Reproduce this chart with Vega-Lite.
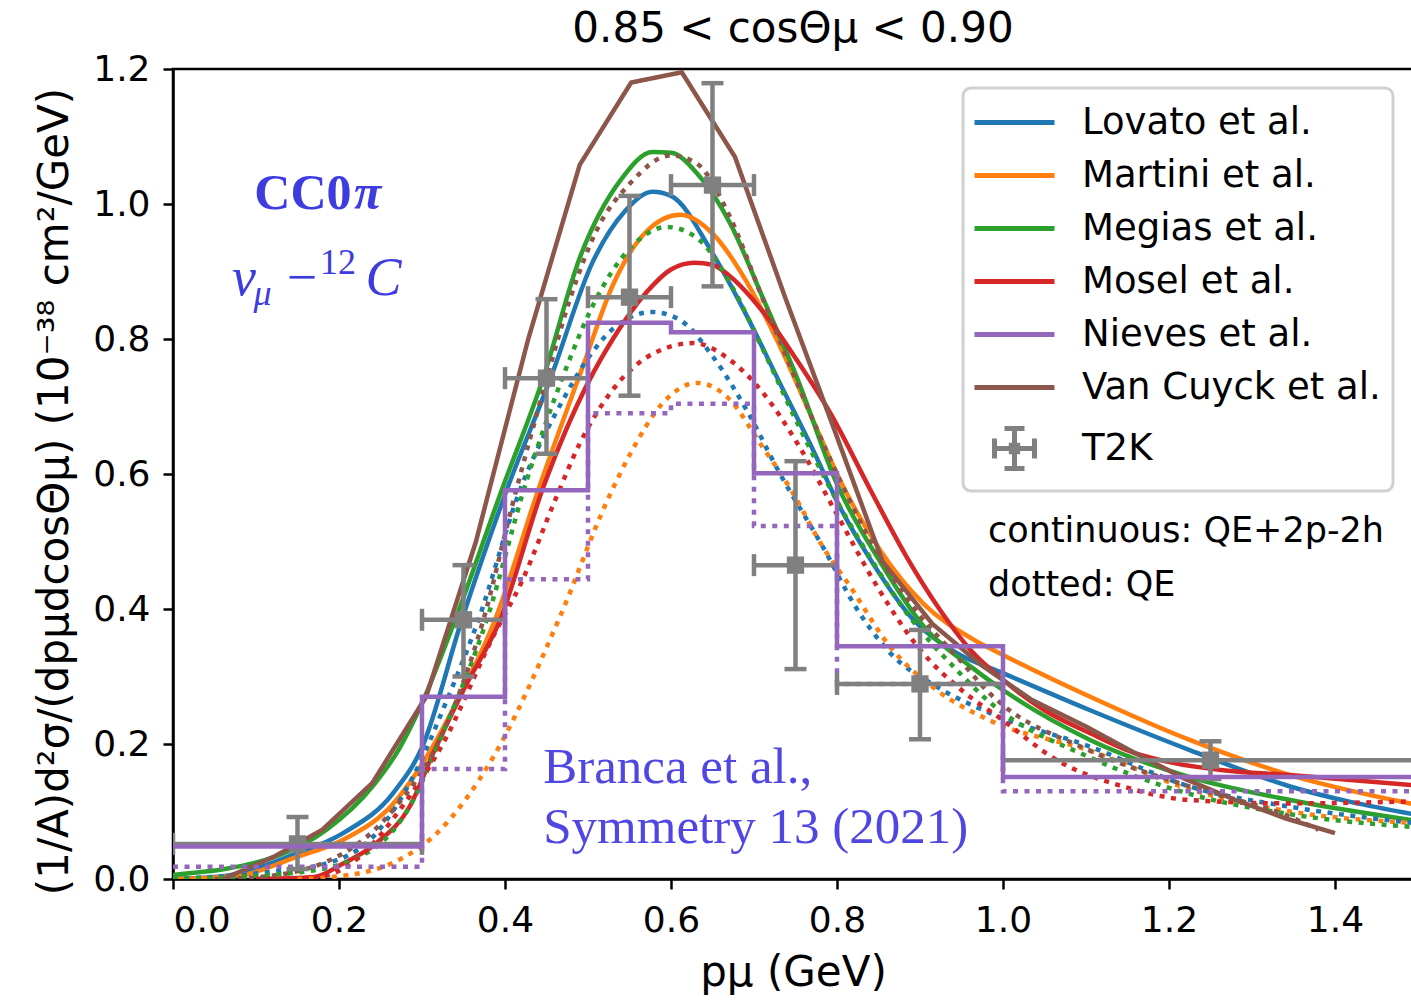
{
  "$schema": "https://vega.github.io/schema/vega-lite/v6.json",
  "width": 1240,
  "height": 810,
  "autosize": "none",
  "padding": {"left": 173, "top": 69, "right": 0, "bottom": 126},
  "title": {"text": "0.85 < cosΘμ < 0.90", "font": "DejaVu Sans", "fontSize": 42, "fontWeight": "normal", "color": "black", "offset": 0, "anchor": "middle"},
  "config": {
    "view": {"stroke": "black", "strokeWidth": 2.5},
    "axis": {"grid": false, "domainColor": "black", "domainWidth": 2.5, "tickColor": "black", "tickWidth": 2.5, "tickSize": 10, "labelFont": "DejaVu Sans", "labelFontSize": 36, "labelColor": "black", "titleFont": "DejaVu Sans", "titleFontSize": 42, "titleFontWeight": "normal", "titleColor": "black", "labelPadding": 12}
  },
  "datasets": {
    "curves": [
      {"model": "Lovato et al.", "type": "solid", "p": 0.0, "v": 0.0},
      {"model": "Lovato et al.", "type": "solid", "p": 0.06, "v": 0.004},
      {"model": "Lovato et al.", "type": "solid", "p": 0.145, "v": 0.036},
      {"model": "Lovato et al.", "type": "solid", "p": 0.205, "v": 0.068},
      {"model": "Lovato et al.", "type": "solid", "p": 0.265, "v": 0.127},
      {"model": "Lovato et al.", "type": "solid", "p": 0.3, "v": 0.195},
      {"model": "Lovato et al.", "type": "solid", "p": 0.348, "v": 0.384},
      {"model": "Lovato et al.", "type": "solid", "p": 0.402, "v": 0.576},
      {"model": "Lovato et al.", "type": "solid", "p": 0.455, "v": 0.742},
      {"model": "Lovato et al.", "type": "solid", "p": 0.506, "v": 0.915},
      {"model": "Lovato et al.", "type": "solid", "p": 0.545, "v": 0.99},
      {"model": "Lovato et al.", "type": "solid", "p": 0.578, "v": 1.018},
      {"model": "Lovato et al.", "type": "solid", "p": 0.6, "v": 1.012},
      {"model": "Lovato et al.", "type": "solid", "p": 0.651, "v": 0.925},
      {"model": "Lovato et al.", "type": "solid", "p": 0.691, "v": 0.835},
      {"model": "Lovato et al.", "type": "solid", "p": 0.731, "v": 0.735},
      {"model": "Lovato et al.", "type": "solid", "p": 0.771, "v": 0.636},
      {"model": "Lovato et al.", "type": "solid", "p": 0.804, "v": 0.55},
      {"model": "Lovato et al.", "type": "solid", "p": 0.843, "v": 0.468},
      {"model": "Lovato et al.", "type": "solid", "p": 0.892, "v": 0.384},
      {"model": "Lovato et al.", "type": "solid", "p": 0.944, "v": 0.335},
      {"model": "Lovato et al.", "type": "solid", "p": 1.0, "v": 0.305},
      {"model": "Lovato et al.", "type": "solid", "p": 1.105, "v": 0.25},
      {"model": "Lovato et al.", "type": "solid", "p": 1.225, "v": 0.191},
      {"model": "Lovato et al.", "type": "solid", "p": 1.346, "v": 0.137},
      {"model": "Lovato et al.", "type": "solid", "p": 1.494, "v": 0.096},

      {"model": "Martini et al.", "type": "solid", "p": 0.0, "v": 0.0},
      {"model": "Martini et al.", "type": "solid", "p": 0.08, "v": 0.005},
      {"model": "Martini et al.", "type": "solid", "p": 0.145, "v": 0.031},
      {"model": "Martini et al.", "type": "solid", "p": 0.205, "v": 0.058},
      {"model": "Martini et al.", "type": "solid", "p": 0.265, "v": 0.111},
      {"model": "Martini et al.", "type": "solid", "p": 0.3, "v": 0.17},
      {"model": "Martini et al.", "type": "solid", "p": 0.345, "v": 0.27},
      {"model": "Martini et al.", "type": "solid", "p": 0.388, "v": 0.384},
      {"model": "Martini et al.", "type": "solid", "p": 0.44, "v": 0.576},
      {"model": "Martini et al.", "type": "solid", "p": 0.494, "v": 0.76},
      {"model": "Martini et al.", "type": "solid", "p": 0.53, "v": 0.88},
      {"model": "Martini et al.", "type": "solid", "p": 0.571, "v": 0.96},
      {"model": "Martini et al.", "type": "solid", "p": 0.611, "v": 0.984},
      {"model": "Martini et al.", "type": "solid", "p": 0.651, "v": 0.955},
      {"model": "Martini et al.", "type": "solid", "p": 0.691, "v": 0.885},
      {"model": "Martini et al.", "type": "solid", "p": 0.731, "v": 0.79},
      {"model": "Martini et al.", "type": "solid", "p": 0.771, "v": 0.68},
      {"model": "Martini et al.", "type": "solid", "p": 0.804, "v": 0.59},
      {"model": "Martini et al.", "type": "solid", "p": 0.852, "v": 0.487},
      {"model": "Martini et al.", "type": "solid", "p": 0.904, "v": 0.408},
      {"model": "Martini et al.", "type": "solid", "p": 0.964, "v": 0.355},
      {"model": "Martini et al.", "type": "solid", "p": 1.0, "v": 0.332},
      {"model": "Martini et al.", "type": "solid", "p": 1.105, "v": 0.27},
      {"model": "Martini et al.", "type": "solid", "p": 1.225, "v": 0.206},
      {"model": "Martini et al.", "type": "solid", "p": 1.346, "v": 0.154},
      {"model": "Martini et al.", "type": "solid", "p": 1.494, "v": 0.111},

      {"model": "Megias et al.", "type": "solid", "p": 0.0, "v": 0.006},
      {"model": "Megias et al.", "type": "solid", "p": 0.125, "v": 0.034},
      {"model": "Megias et al.", "type": "solid", "p": 0.185, "v": 0.073},
      {"model": "Megias et al.", "type": "solid", "p": 0.241, "v": 0.138},
      {"model": "Megias et al.", "type": "solid", "p": 0.273, "v": 0.194},
      {"model": "Megias et al.", "type": "solid", "p": 0.298, "v": 0.255},
      {"model": "Megias et al.", "type": "solid", "p": 0.34, "v": 0.384},
      {"model": "Megias et al.", "type": "solid", "p": 0.396, "v": 0.576},
      {"model": "Megias et al.", "type": "solid", "p": 0.446, "v": 0.742},
      {"model": "Megias et al.", "type": "solid", "p": 0.49, "v": 0.92},
      {"model": "Megias et al.", "type": "solid", "p": 0.539, "v": 1.035},
      {"model": "Megias et al.", "type": "solid", "p": 0.578, "v": 1.077},
      {"model": "Megias et al.", "type": "solid", "p": 0.6, "v": 1.076},
      {"model": "Megias et al.", "type": "solid", "p": 0.631, "v": 1.046},
      {"model": "Megias et al.", "type": "solid", "p": 0.671, "v": 0.972},
      {"model": "Megias et al.", "type": "solid", "p": 0.711, "v": 0.86},
      {"model": "Megias et al.", "type": "solid", "p": 0.752, "v": 0.742},
      {"model": "Megias et al.", "type": "solid", "p": 0.8, "v": 0.585},
      {"model": "Megias et al.", "type": "solid", "p": 0.852, "v": 0.47},
      {"model": "Megias et al.", "type": "solid", "p": 0.904, "v": 0.375},
      {"model": "Megias et al.", "type": "solid", "p": 0.964, "v": 0.312},
      {"model": "Megias et al.", "type": "solid", "p": 1.0, "v": 0.28},
      {"model": "Megias et al.", "type": "solid", "p": 1.105, "v": 0.206},
      {"model": "Megias et al.", "type": "solid", "p": 1.225, "v": 0.151},
      {"model": "Megias et al.", "type": "solid", "p": 1.346, "v": 0.117},
      {"model": "Megias et al.", "type": "solid", "p": 1.494, "v": 0.087},

      {"model": "Mosel et al.", "type": "solid", "p": 0.1, "v": 0.0},
      {"model": "Mosel et al.", "type": "solid", "p": 0.17, "v": 0.003},
      {"model": "Mosel et al.", "type": "solid", "p": 0.205, "v": 0.023},
      {"model": "Mosel et al.", "type": "solid", "p": 0.245, "v": 0.053},
      {"model": "Mosel et al.", "type": "solid", "p": 0.285, "v": 0.107},
      {"model": "Mosel et al.", "type": "solid", "p": 0.313, "v": 0.185},
      {"model": "Mosel et al.", "type": "solid", "p": 0.35, "v": 0.28},
      {"model": "Mosel et al.", "type": "solid", "p": 0.394, "v": 0.384},
      {"model": "Mosel et al.", "type": "solid", "p": 0.446, "v": 0.58},
      {"model": "Mosel et al.", "type": "solid", "p": 0.5, "v": 0.735},
      {"model": "Mosel et al.", "type": "solid", "p": 0.53, "v": 0.8},
      {"model": "Mosel et al.", "type": "solid", "p": 0.571, "v": 0.87},
      {"model": "Mosel et al.", "type": "solid", "p": 0.6, "v": 0.903},
      {"model": "Mosel et al.", "type": "solid", "p": 0.628, "v": 0.913},
      {"model": "Mosel et al.", "type": "solid", "p": 0.65, "v": 0.91},
      {"model": "Mosel et al.", "type": "solid", "p": 0.671, "v": 0.893},
      {"model": "Mosel et al.", "type": "solid", "p": 0.711, "v": 0.84},
      {"model": "Mosel et al.", "type": "solid", "p": 0.752, "v": 0.768},
      {"model": "Mosel et al.", "type": "solid", "p": 0.792, "v": 0.69},
      {"model": "Mosel et al.", "type": "solid", "p": 0.843, "v": 0.57},
      {"model": "Mosel et al.", "type": "solid", "p": 0.884, "v": 0.477},
      {"model": "Mosel et al.", "type": "solid", "p": 0.924, "v": 0.399},
      {"model": "Mosel et al.", "type": "solid", "p": 0.964, "v": 0.335},
      {"model": "Mosel et al.", "type": "solid", "p": 1.0, "v": 0.295},
      {"model": "Mosel et al.", "type": "solid", "p": 1.05, "v": 0.25},
      {"model": "Mosel et al.", "type": "solid", "p": 1.105, "v": 0.216},
      {"model": "Mosel et al.", "type": "solid", "p": 1.16, "v": 0.186},
      {"model": "Mosel et al.", "type": "solid", "p": 1.205, "v": 0.172},
      {"model": "Mosel et al.", "type": "solid", "p": 1.265, "v": 0.161},
      {"model": "Mosel et al.", "type": "solid", "p": 1.346, "v": 0.154},
      {"model": "Mosel et al.", "type": "solid", "p": 1.494, "v": 0.139},

      {"model": "Lovato et al.", "type": "dotted", "p": 0.0, "v": 0.0},
      {"model": "Lovato et al.", "type": "dotted", "p": 0.105, "v": 0.009},
      {"model": "Lovato et al.", "type": "dotted", "p": 0.185, "v": 0.023},
      {"model": "Lovato et al.", "type": "dotted", "p": 0.245, "v": 0.068},
      {"model": "Lovato et al.", "type": "dotted", "p": 0.289, "v": 0.151},
      {"model": "Lovato et al.", "type": "dotted", "p": 0.33, "v": 0.265},
      {"model": "Lovato et al.", "type": "dotted", "p": 0.368, "v": 0.384},
      {"model": "Lovato et al.", "type": "dotted", "p": 0.418, "v": 0.576},
      {"model": "Lovato et al.", "type": "dotted", "p": 0.47, "v": 0.71},
      {"model": "Lovato et al.", "type": "dotted", "p": 0.502, "v": 0.775},
      {"model": "Lovato et al.", "type": "dotted", "p": 0.53, "v": 0.815},
      {"model": "Lovato et al.", "type": "dotted", "p": 0.577, "v": 0.84},
      {"model": "Lovato et al.", "type": "dotted", "p": 0.611, "v": 0.828},
      {"model": "Lovato et al.", "type": "dotted", "p": 0.651, "v": 0.773},
      {"model": "Lovato et al.", "type": "dotted", "p": 0.691, "v": 0.695},
      {"model": "Lovato et al.", "type": "dotted", "p": 0.731, "v": 0.601},
      {"model": "Lovato et al.", "type": "dotted", "p": 0.783, "v": 0.492},
      {"model": "Lovato et al.", "type": "dotted", "p": 0.824, "v": 0.4},
      {"model": "Lovato et al.", "type": "dotted", "p": 0.864, "v": 0.335},
      {"model": "Lovato et al.", "type": "dotted", "p": 0.92, "v": 0.285},
      {"model": "Lovato et al.", "type": "dotted", "p": 0.984, "v": 0.246},
      {"model": "Lovato et al.", "type": "dotted", "p": 1.105, "v": 0.196},
      {"model": "Lovato et al.", "type": "dotted", "p": 1.225, "v": 0.137},
      {"model": "Lovato et al.", "type": "dotted", "p": 1.346, "v": 0.107},
      {"model": "Lovato et al.", "type": "dotted", "p": 1.494, "v": 0.083},

      {"model": "Martini et al.", "type": "dotted", "p": 0.15, "v": 0.0},
      {"model": "Martini et al.", "type": "dotted", "p": 0.2, "v": 0.004},
      {"model": "Martini et al.", "type": "dotted", "p": 0.265, "v": 0.024},
      {"model": "Martini et al.", "type": "dotted", "p": 0.318, "v": 0.068},
      {"model": "Martini et al.", "type": "dotted", "p": 0.386, "v": 0.181},
      {"model": "Martini et al.", "type": "dotted", "p": 0.466, "v": 0.388},
      {"model": "Martini et al.", "type": "dotted", "p": 0.523, "v": 0.56},
      {"model": "Martini et al.", "type": "dotted", "p": 0.551, "v": 0.63},
      {"model": "Martini et al.", "type": "dotted", "p": 0.59, "v": 0.705},
      {"model": "Martini et al.", "type": "dotted", "p": 0.631, "v": 0.735},
      {"model": "Martini et al.", "type": "dotted", "p": 0.671, "v": 0.71},
      {"model": "Martini et al.", "type": "dotted", "p": 0.707, "v": 0.646},
      {"model": "Martini et al.", "type": "dotted", "p": 0.743, "v": 0.58},
      {"model": "Martini et al.", "type": "dotted", "p": 0.783, "v": 0.492},
      {"model": "Martini et al.", "type": "dotted", "p": 0.816, "v": 0.433},
      {"model": "Martini et al.", "type": "dotted", "p": 0.864, "v": 0.344},
      {"model": "Martini et al.", "type": "dotted", "p": 0.92, "v": 0.28},
      {"model": "Martini et al.", "type": "dotted", "p": 0.984, "v": 0.235},
      {"model": "Martini et al.", "type": "dotted", "p": 1.105, "v": 0.19},
      {"model": "Martini et al.", "type": "dotted", "p": 1.225, "v": 0.133},
      {"model": "Martini et al.", "type": "dotted", "p": 1.346, "v": 0.1},
      {"model": "Martini et al.", "type": "dotted", "p": 1.494, "v": 0.083},

      {"model": "Megias et al.", "type": "dotted", "p": 0.0, "v": 0.0},
      {"model": "Megias et al.", "type": "dotted", "p": 0.145, "v": 0.009},
      {"model": "Megias et al.", "type": "dotted", "p": 0.225, "v": 0.033},
      {"model": "Megias et al.", "type": "dotted", "p": 0.285, "v": 0.107},
      {"model": "Megias et al.", "type": "dotted", "p": 0.325, "v": 0.216},
      {"model": "Megias et al.", "type": "dotted", "p": 0.378, "v": 0.384},
      {"model": "Megias et al.", "type": "dotted", "p": 0.426, "v": 0.59},
      {"model": "Megias et al.", "type": "dotted", "p": 0.47, "v": 0.745},
      {"model": "Megias et al.", "type": "dotted", "p": 0.506, "v": 0.85},
      {"model": "Megias et al.", "type": "dotted", "p": 0.551, "v": 0.935},
      {"model": "Megias et al.", "type": "dotted", "p": 0.595, "v": 0.966},
      {"model": "Megias et al.", "type": "dotted", "p": 0.631, "v": 0.95},
      {"model": "Megias et al.", "type": "dotted", "p": 0.671, "v": 0.883},
      {"model": "Megias et al.", "type": "dotted", "p": 0.711, "v": 0.784},
      {"model": "Megias et al.", "type": "dotted", "p": 0.752, "v": 0.676},
      {"model": "Megias et al.", "type": "dotted", "p": 0.8, "v": 0.56},
      {"model": "Megias et al.", "type": "dotted", "p": 0.843, "v": 0.47},
      {"model": "Megias et al.", "type": "dotted", "p": 0.884, "v": 0.394},
      {"model": "Megias et al.", "type": "dotted", "p": 0.944, "v": 0.31},
      {"model": "Megias et al.", "type": "dotted", "p": 0.984, "v": 0.262},
      {"model": "Megias et al.", "type": "dotted", "p": 1.105, "v": 0.18},
      {"model": "Megias et al.", "type": "dotted", "p": 1.225, "v": 0.126},
      {"model": "Megias et al.", "type": "dotted", "p": 1.346, "v": 0.096},
      {"model": "Megias et al.", "type": "dotted", "p": 1.494, "v": 0.077},

      {"model": "Mosel et al.", "type": "dotted", "p": 0.1, "v": 0.0},
      {"model": "Mosel et al.", "type": "dotted", "p": 0.165, "v": 0.001},
      {"model": "Mosel et al.", "type": "dotted", "p": 0.225, "v": 0.033},
      {"model": "Mosel et al.", "type": "dotted", "p": 0.273, "v": 0.102},
      {"model": "Mosel et al.", "type": "dotted", "p": 0.325, "v": 0.2},
      {"model": "Mosel et al.", "type": "dotted", "p": 0.386, "v": 0.36},
      {"model": "Mosel et al.", "type": "dotted", "p": 0.42, "v": 0.44},
      {"model": "Mosel et al.", "type": "dotted", "p": 0.46, "v": 0.56},
      {"model": "Mosel et al.", "type": "dotted", "p": 0.49, "v": 0.645},
      {"model": "Mosel et al.", "type": "dotted", "p": 0.53, "v": 0.725},
      {"model": "Mosel et al.", "type": "dotted", "p": 0.571, "v": 0.773},
      {"model": "Mosel et al.", "type": "dotted", "p": 0.627, "v": 0.794},
      {"model": "Mosel et al.", "type": "dotted", "p": 0.671, "v": 0.769},
      {"model": "Mosel et al.", "type": "dotted", "p": 0.711, "v": 0.72},
      {"model": "Mosel et al.", "type": "dotted", "p": 0.752, "v": 0.646},
      {"model": "Mosel et al.", "type": "dotted", "p": 0.8, "v": 0.54},
      {"model": "Mosel et al.", "type": "dotted", "p": 0.85, "v": 0.43},
      {"model": "Mosel et al.", "type": "dotted", "p": 0.9, "v": 0.34},
      {"model": "Mosel et al.", "type": "dotted", "p": 0.95, "v": 0.28},
      {"model": "Mosel et al.", "type": "dotted", "p": 1.0, "v": 0.235},
      {"model": "Mosel et al.", "type": "dotted", "p": 1.065, "v": 0.176},
      {"model": "Mosel et al.", "type": "dotted", "p": 1.145, "v": 0.137},
      {"model": "Mosel et al.", "type": "dotted", "p": 1.225, "v": 0.117},
      {"model": "Mosel et al.", "type": "dotted", "p": 1.346, "v": 0.112},
      {"model": "Mosel et al.", "type": "dotted", "p": 1.494, "v": 0.115},

      {"model": "Van Cuyck et al.", "type": "dotted", "p": 0.05, "v": 0.0},
      {"model": "Van Cuyck et al.", "type": "dotted", "p": 0.105, "v": 0.003},
      {"model": "Van Cuyck et al.", "type": "dotted", "p": 0.205, "v": 0.038},
      {"model": "Van Cuyck et al.", "type": "dotted", "p": 0.265, "v": 0.102},
      {"model": "Van Cuyck et al.", "type": "dotted", "p": 0.325, "v": 0.216},
      {"model": "Van Cuyck et al.", "type": "dotted", "p": 0.374, "v": 0.384},
      {"model": "Van Cuyck et al.", "type": "dotted", "p": 0.408, "v": 0.55},
      {"model": "Van Cuyck et al.", "type": "dotted", "p": 0.45, "v": 0.74},
      {"model": "Van Cuyck et al.", "type": "dotted", "p": 0.478, "v": 0.858},
      {"model": "Van Cuyck et al.", "type": "dotted", "p": 0.51, "v": 0.96},
      {"model": "Van Cuyck et al.", "type": "dotted", "p": 0.551, "v": 1.031},
      {"model": "Van Cuyck et al.", "type": "dotted", "p": 0.6, "v": 1.072},
      {"model": "Van Cuyck et al.", "type": "dotted", "p": 0.631, "v": 1.06},
      {"model": "Van Cuyck et al.", "type": "dotted", "p": 0.671, "v": 0.981},
      {"model": "Van Cuyck et al.", "type": "dotted", "p": 0.711, "v": 0.858},
      {"model": "Van Cuyck et al.", "type": "dotted", "p": 0.752, "v": 0.735},
      {"model": "Van Cuyck et al.", "type": "dotted", "p": 0.8, "v": 0.6},
      {"model": "Van Cuyck et al.", "type": "dotted", "p": 0.85, "v": 0.48},
      {"model": "Van Cuyck et al.", "type": "dotted", "p": 0.9, "v": 0.39},
      {"model": "Van Cuyck et al.", "type": "dotted", "p": 0.944, "v": 0.33},
      {"model": "Van Cuyck et al.", "type": "dotted", "p": 0.984, "v": 0.275},
      {"model": "Van Cuyck et al.", "type": "dotted", "p": 1.105, "v": 0.19},
      {"model": "Van Cuyck et al.", "type": "dotted", "p": 1.225, "v": 0.137},
      {"model": "Van Cuyck et al.", "type": "dotted", "p": 1.346, "v": 0.092},
      {"model": "Van Cuyck et al.", "type": "dotted", "p": 1.38, "v": 0.073}
    ],
    "vancuyck": [
      {"model": "Van Cuyck et al.", "p": 0.06, "v": 0.0},
      {"model": "Van Cuyck et al.", "p": 0.12, "v": 0.032},
      {"model": "Van Cuyck et al.", "p": 0.18, "v": 0.073},
      {"model": "Van Cuyck et al.", "p": 0.24, "v": 0.142},
      {"model": "Van Cuyck et al.", "p": 0.305, "v": 0.27},
      {"model": "Van Cuyck et al.", "p": 0.365, "v": 0.5},
      {"model": "Van Cuyck et al.", "p": 0.428, "v": 0.8},
      {"model": "Van Cuyck et al.", "p": 0.49, "v": 1.058},
      {"model": "Van Cuyck et al.", "p": 0.552, "v": 1.18},
      {"model": "Van Cuyck et al.", "p": 0.613, "v": 1.195},
      {"model": "Van Cuyck et al.", "p": 0.677, "v": 1.07},
      {"model": "Van Cuyck et al.", "p": 0.738, "v": 0.86},
      {"model": "Van Cuyck et al.", "p": 0.797, "v": 0.665},
      {"model": "Van Cuyck et al.", "p": 0.855, "v": 0.47},
      {"model": "Van Cuyck et al.", "p": 0.915, "v": 0.378},
      {"model": "Van Cuyck et al.", "p": 0.975, "v": 0.316},
      {"model": "Van Cuyck et al.", "p": 1.035, "v": 0.265},
      {"model": "Van Cuyck et al.", "p": 1.1, "v": 0.226},
      {"model": "Van Cuyck et al.", "p": 1.16, "v": 0.186},
      {"model": "Van Cuyck et al.", "p": 1.22, "v": 0.148},
      {"model": "Van Cuyck et al.", "p": 1.28, "v": 0.117},
      {"model": "Van Cuyck et al.", "p": 1.34, "v": 0.09},
      {"model": "Van Cuyck et al.", "p": 1.4, "v": 0.068}
    ],
    "nieves": [
      {"model": "Nieves et al.", "type": "solid", "p": 0.0, "v": 0.048},
      {"model": "Nieves et al.", "type": "solid", "p": 0.3, "v": 0.27},
      {"model": "Nieves et al.", "type": "solid", "p": 0.4, "v": 0.576},
      {"model": "Nieves et al.", "type": "solid", "p": 0.5, "v": 0.824},
      {"model": "Nieves et al.", "type": "solid", "p": 0.6, "v": 0.81},
      {"model": "Nieves et al.", "type": "solid", "p": 0.7, "v": 0.601},
      {"model": "Nieves et al.", "type": "solid", "p": 0.8, "v": 0.345},
      {"model": "Nieves et al.", "type": "solid", "p": 1.0, "v": 0.151},
      {"model": "Nieves et al.", "type": "solid", "p": 1.5, "v": 0.151},
      {"model": "Nieves et al.", "type": "dotted", "p": 0.0, "v": 0.018},
      {"model": "Nieves et al.", "type": "dotted", "p": 0.3, "v": 0.163},
      {"model": "Nieves et al.", "type": "dotted", "p": 0.4, "v": 0.444},
      {"model": "Nieves et al.", "type": "dotted", "p": 0.5, "v": 0.69},
      {"model": "Nieves et al.", "type": "dotted", "p": 0.6, "v": 0.704},
      {"model": "Nieves et al.", "type": "dotted", "p": 0.7, "v": 0.523},
      {"model": "Nieves et al.", "type": "dotted", "p": 0.8, "v": 0.289},
      {"model": "Nieves et al.", "type": "dotted", "p": 1.0, "v": 0.13},
      {"model": "Nieves et al.", "type": "dotted", "p": 1.5, "v": 0.13}
    ],
    "t2k": [
      {"p": 0.15, "v": 0.052, "lo": 0.015, "hi": 0.092, "plo": 0.0, "phi": 0.3},
      {"p": 0.35, "v": 0.384, "lo": 0.3, "hi": 0.465, "plo": 0.3, "phi": 0.4},
      {"p": 0.45, "v": 0.742, "lo": 0.63, "hi": 0.859, "plo": 0.4, "phi": 0.5},
      {"p": 0.55, "v": 0.862, "lo": 0.716, "hi": 1.012, "plo": 0.5, "phi": 0.6},
      {"p": 0.65, "v": 1.028, "lo": 0.878, "hi": 1.179, "plo": 0.6, "phi": 0.7},
      {"p": 0.75, "v": 0.465, "lo": 0.311, "hi": 0.619, "plo": 0.7, "phi": 0.8},
      {"p": 0.9, "v": 0.289, "lo": 0.207, "hi": 0.369, "plo": 0.8, "phi": 1.0},
      {"p": 1.25, "v": 0.176, "lo": 0.148, "hi": 0.204, "plo": 1.0, "phi": 1.5}
    ]
  },
  "encoding": {
    "x": {"type": "quantitative", "scale": {"domain": [0, 1.494], "nice": false, "zero": false},
          "axis": {"title": "pμ (GeV)", "values": [0, 0.2, 0.4, 0.6, 0.8, 1.0, 1.2, 1.4], "format": ".1f", "titlePadding": 14, "labelPadding": 14}},
    "y": {"type": "quantitative", "scale": {"domain": [0, 1.2], "nice": false},
          "axis": {"title": "(1/A)d²σ/(dpμdcosΘμ) (10⁻³⁸ cm²/GeV)", "values": [0, 0.2, 0.4, 0.6, 0.8, 1.0, 1.2], "format": ".1f", "titlePadding": 16, "labelPadding": 13, "titleY": 422}}
  },
  "layer": [
    {
      "data": {"name": "curves"},
      "transform": [{"filter": "datum.type === 'solid'"}],
      "mark": {"type": "line", "interpolate": "monotone", "strokeWidth": 4.5, "clip": true},
      "encoding": {
        "x": {"field": "p", "type": "quantitative"},
        "y": {"field": "v", "type": "quantitative"},
        "color": {"field": "model", "type": "nominal",
          "scale": {"domain": ["Lovato et al.", "Martini et al.", "Megias et al.", "Mosel et al.", "Nieves et al.", "Van Cuyck et al.", "T2K"],
                    "range": ["#1f77b4", "#ff7f0e", "#2ca02c", "#d62728", "#9467bd", "#8c564b", "#808080"]},
          "legend": {"orient": "none", "legendX": 790, "legendY": 19, "title": null,
            "symbolType": "M-2,0L2,0", "symbolSize": 1600, "symbolStrokeWidth": 5, "symbolOffset": 17,
            "labelFont": "DejaVu Sans", "labelFontSize": 37, "labelColor": "black", "labelOffset": 45,
            "rowPadding": 12, "padding": 12, "fillColor": "white", "strokeColor": "#d0d0d0", "cornerRadius": 8,
            "labelLimit": 500,
            "encode": {
              "legend": {"update": {"strokeWidth": {"value": 3}}},
              "symbols": {"update": {"shape": {"signal": "datum.value === 'T2K' ? 'M0,-1L0,1M-0.5,-1L0.5,-1M-0.5,1L0.5,1M-1,0L1,0M-1,-0.5L-1,0.5M1,-0.5L1,0.5M-0.16,-0.16L0.16,-0.16L0.16,0.16L-0.16,0.16Z' : 'M-2,0L2,0'"}}}
            }}
        }
      }
    },
    {
      "data": {"name": "curves"},
      "transform": [{"filter": "datum.type === 'dotted'"}],
      "mark": {"type": "line", "interpolate": "monotone", "strokeWidth": 4.5, "strokeDash": [5, 6.5], "clip": true},
      "encoding": {
        "x": {"field": "p", "type": "quantitative"},
        "y": {"field": "v", "type": "quantitative"},
        "color": {"field": "model", "type": "nominal"}
      }
    },
    {
      "data": {"name": "vancuyck"},
      "mark": {"type": "line", "interpolate": "linear", "strokeWidth": 4.5, "clip": true},
      "encoding": {
        "x": {"field": "p", "type": "quantitative"},
        "y": {"field": "v", "type": "quantitative"},
        "color": {"field": "model", "type": "nominal"}
      }
    },
    {
      "data": {"name": "nieves"},
      "transform": [{"filter": "datum.type === 'dotted'"}],
      "mark": {"type": "line", "interpolate": "step-after", "strokeWidth": 4.5, "strokeDash": [5, 6.5], "clip": true},
      "encoding": {
        "x": {"field": "p", "type": "quantitative"},
        "y": {"field": "v", "type": "quantitative"},
        "color": {"field": "model", "type": "nominal"}
      }
    },
    {
      "data": {"name": "t2k"},
      "mark": {"type": "rule", "color": "#808080", "strokeWidth": 4.5, "clip": true},
      "encoding": {
        "x": {"field": "plo", "type": "quantitative"},
        "x2": {"field": "phi"},
        "y": {"field": "v", "type": "quantitative"}
      }
    },
    {
      "data": {"name": "t2k"},
      "mark": {"type": "rule", "color": "#808080", "strokeWidth": 4.5, "clip": true},
      "encoding": {
        "x": {"field": "p", "type": "quantitative"},
        "y": {"field": "lo", "type": "quantitative"},
        "y2": {"field": "hi"}
      }
    },
    {
      "data": {"name": "t2k"},
      "mark": {"type": "tick", "color": "#808080", "orient": "horizontal", "size": 22, "thickness": 4.5, "opacity": 1, "clip": true},
      "encoding": {
        "x": {"field": "p", "type": "quantitative"},
        "y": {"field": "lo", "type": "quantitative"}
      }
    },
    {
      "data": {"name": "t2k"},
      "mark": {"type": "tick", "color": "#808080", "orient": "horizontal", "size": 22, "thickness": 4.5, "opacity": 1, "clip": true},
      "encoding": {
        "x": {"field": "p", "type": "quantitative"},
        "y": {"field": "hi", "type": "quantitative"}
      }
    },
    {
      "data": {"name": "t2k"},
      "mark": {"type": "tick", "color": "#808080", "orient": "vertical", "size": 22, "thickness": 4.5, "opacity": 1, "clip": true},
      "encoding": {
        "x": {"field": "plo", "type": "quantitative"},
        "y": {"field": "v", "type": "quantitative"}
      }
    },
    {
      "data": {"name": "t2k"},
      "mark": {"type": "tick", "color": "#808080", "orient": "vertical", "size": 22, "thickness": 4.5, "opacity": 1, "clip": true},
      "encoding": {
        "x": {"field": "phi", "type": "quantitative"},
        "y": {"field": "v", "type": "quantitative"}
      }
    },
    {
      "data": {"name": "t2k"},
      "mark": {"type": "point", "shape": "square", "filled": true, "color": "#808080", "size": 300, "opacity": 1, "clip": true},
      "encoding": {
        "x": {"field": "p", "type": "quantitative"},
        "y": {"field": "v", "type": "quantitative"}
      }
    },
    {
      "data": {"name": "nieves"},
      "transform": [{"filter": "datum.type === 'solid'"}],
      "mark": {"type": "line", "interpolate": "step-after", "strokeWidth": 4.5, "clip": true},
      "encoding": {
        "x": {"field": "p", "type": "quantitative"},
        "y": {"field": "v", "type": "quantitative"},
        "color": {"field": "model", "type": "nominal"}
      }
    },
    {
      "data": {"values": [{"label": "CC0"}]},
      "mark": {"type": "text", "font": "Liberation Serif", "fontWeight": "bold", "fontSize": 50, "color": "#3c3ce0", "align": "left", "baseline": "alphabetic"},
      "encoding": {"x": {"datum": 0.098}, "y": {"datum": 0.993}, "text": {"field": "label"}}
    },
    {
      "data": {"values": [{"label": "π"}]},
      "mark": {"type": "text", "font": "Liberation Serif", "fontWeight": "bold", "fontStyle": "italic", "fontSize": 50, "color": "#3c3ce0", "align": "left", "baseline": "alphabetic"},
      "encoding": {"x": {"datum": 0.218}, "y": {"datum": 0.993}, "text": {"field": "label"}}
    },
    {
      "data": {"values": [{"label": "ν"}]},
      "mark": {"type": "text", "font": "Liberation Serif", "fontStyle": "italic", "fontSize": 54, "color": "#3c3ce0", "align": "left", "baseline": "alphabetic"},
      "encoding": {"x": {"datum": 0.071}, "y": {"datum": 0.865}, "text": {"field": "label"}}
    },
    {
      "data": {"values": [{"label": "μ"}]},
      "mark": {"type": "text", "font": "Liberation Serif", "fontStyle": "italic", "fontSize": 36, "color": "#3c3ce0", "align": "left", "baseline": "alphabetic"},
      "encoding": {"x": {"datum": 0.097}, "y": {"datum": 0.85}, "text": {"field": "label"}}
    },
    {
      "data": {"values": [{"label": "−"}]},
      "mark": {"type": "text", "font": "Liberation Serif", "fontSize": 54, "color": "#3c3ce0", "align": "left", "baseline": "alphabetic"},
      "encoding": {"x": {"datum": 0.137}, "y": {"datum": 0.865}, "text": {"field": "label"}}
    },
    {
      "data": {"values": [{"label": "12"}]},
      "mark": {"type": "text", "font": "Liberation Serif", "fontSize": 36, "color": "#3c3ce0", "align": "left", "baseline": "alphabetic"},
      "encoding": {"x": {"datum": 0.177}, "y": {"datum": 0.896}, "text": {"field": "label"}}
    },
    {
      "data": {"values": [{"label": "C"}]},
      "mark": {"type": "text", "font": "Liberation Serif", "fontStyle": "italic", "fontSize": 54, "color": "#3c3ce0", "align": "left", "baseline": "alphabetic"},
      "encoding": {"x": {"datum": 0.232}, "y": {"datum": 0.865}, "text": {"field": "label"}}
    },
    {
      "data": {"values": [{"label": "Branca et al.,"}]},
      "mark": {"type": "text", "font": "Liberation Serif", "fontSize": 51, "color": "#5047e2", "align": "left", "baseline": "alphabetic"},
      "encoding": {"x": {"datum": 0.446}, "y": {"datum": 0.142}, "text": {"field": "label"}}
    },
    {
      "data": {"values": [{"label": "Symmetry 13 (2021)"}]},
      "mark": {"type": "text", "font": "Liberation Serif", "fontSize": 51, "color": "#5047e2", "align": "left", "baseline": "alphabetic"},
      "encoding": {"x": {"datum": 0.446}, "y": {"datum": 0.053}, "text": {"field": "label"}}
    },
    {
      "data": {"values": [{"label": "continuous: QE+2p-2h"}]},
      "mark": {"type": "text", "font": "DejaVu Sans", "fontSize": 35, "color": "black", "align": "left", "baseline": "alphabetic"},
      "encoding": {"x": {"datum": 0.982}, "y": {"datum": 0.499}, "text": {"field": "label"}}
    },
    {
      "data": {"values": [{"label": "dotted: QE"}]},
      "mark": {"type": "text", "font": "DejaVu Sans", "fontSize": 35, "color": "black", "align": "left", "baseline": "alphabetic"},
      "encoding": {"x": {"datum": 0.982}, "y": {"datum": 0.419}, "text": {"field": "label"}}
    }
  ]
}
